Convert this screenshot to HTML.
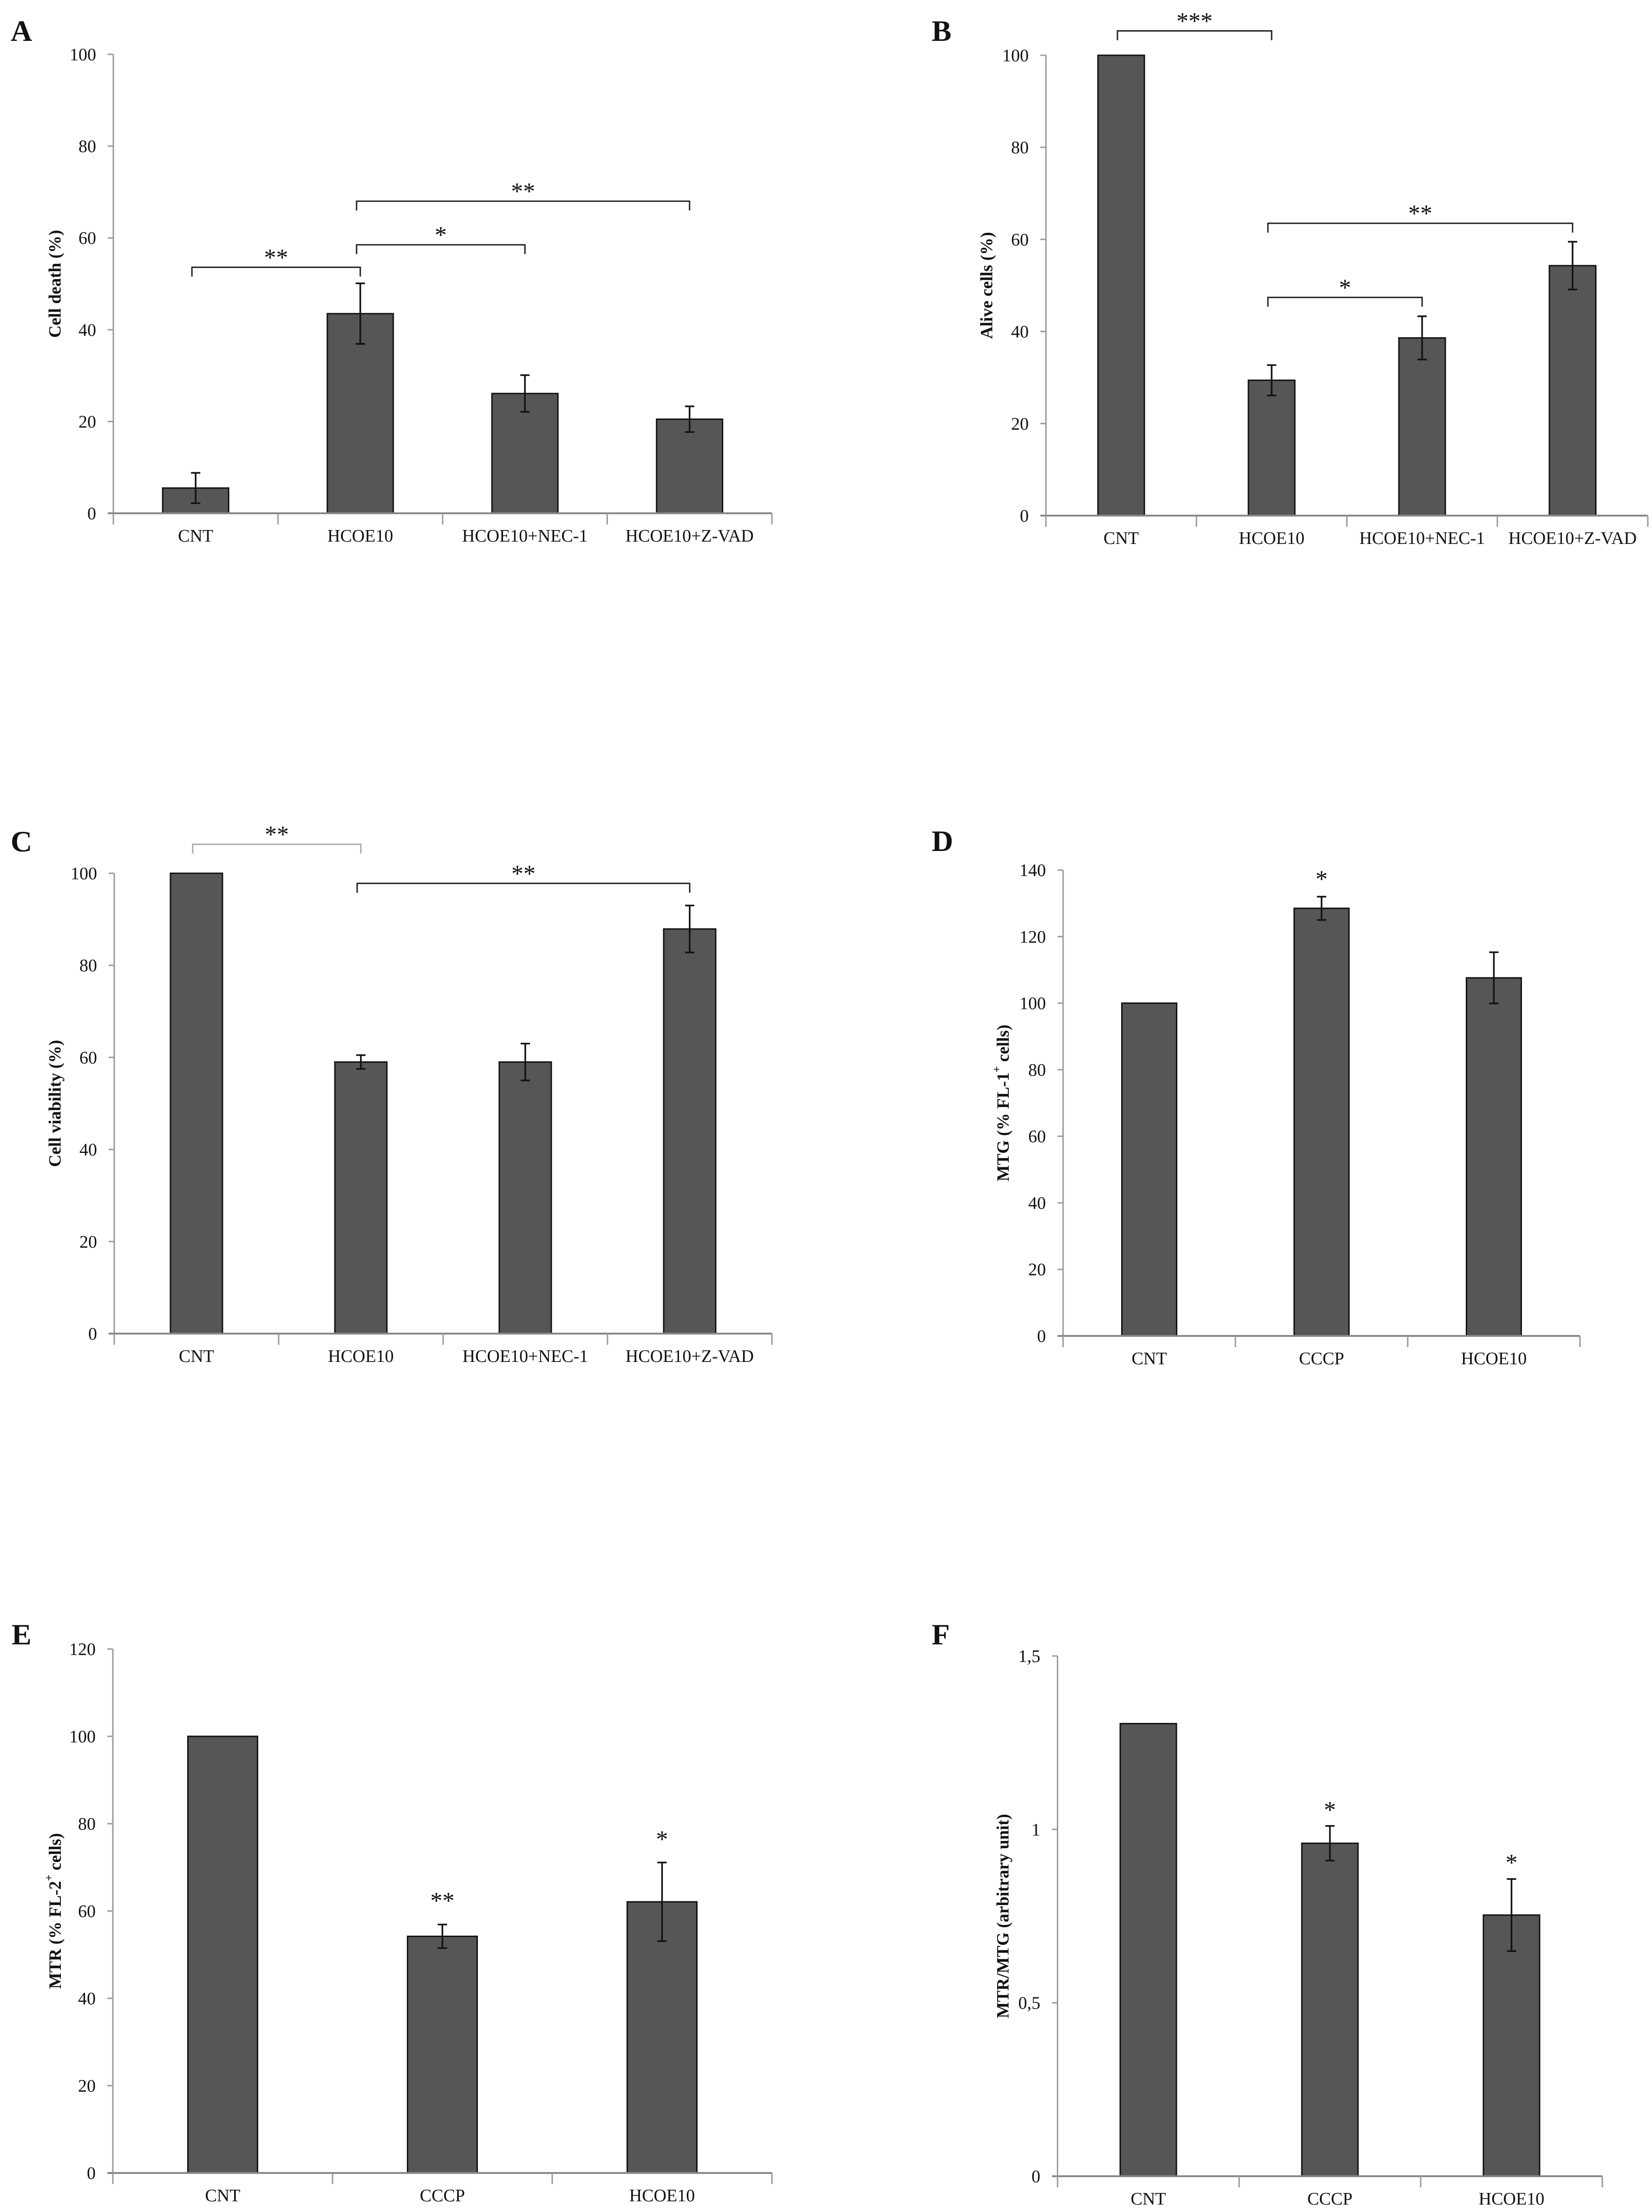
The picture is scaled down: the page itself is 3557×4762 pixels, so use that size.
<!DOCTYPE html>
<html>
<head>
<meta charset="utf-8">
<style>
  html, body { margin: 0; padding: 0; background: #fff; }
  svg { display: block; }
  text { font-family: "Liberation Serif", serif; fill: #111; }
  .tick { font-size: 38px; }
  .cat { font-size: 38px; }
  .ylab { font-size: 37px; font-weight: bold; }
  .letter { font-size: 64px; font-weight: bold; }
  .star { font-size: 52px; }
</style>
</head>
<body>
<svg id="fig" xmlns="http://www.w3.org/2000/svg" width="3557" height="4762" viewBox="0 0 3557 4762"></svg>
<script>
// ---------- DATA ----------
const catsA = ["CNT", "HCOE10", "HCOE10+NEC-1", "HCOE10+Z-VAD"];
const valsA = [5.5, 43.5, 26.1, 20.5];
const errsA = [3.3, 6.6, 4.0, 2.8];
const ticksA = [0, 20, 40, 60, 80, 100];
const bracketsA = [[0, 1, 53.6, "**"], [1, 2, 58.5, "*"], [1, 3, 68, "**"]];

const catsB = ["CNT", "HCOE10", "HCOE10+NEC-1", "HCOE10+Z-VAD"];
const valsB = [100, 29.4, 38.6, 54.3];
const errsB = [0, 3.3, 4.7, 5.2];
const ticksB = [0, 20, 40, 60, 80, 100];
const bracketsB = [[0, 1, 105.3, "***"], [1, 3, 63.5, "**"], [1, 2, 47.4, "*"]];

const catsC = ["CNT", "HCOE10", "HCOE10+NEC-1", "HCOE10+Z-VAD"];
const valsC = [100, 59, 59, 87.9];
const errsC = [0, 1.5, 4.0, 5.1];
const ticksC = [0, 20, 40, 60, 80, 100];
const bracketsC = [[0, 1, 106.3, "**"], [1, 3, 97.8, "**"]];

const catsD = ["CNT", "CCCP", "HCOE10"];
const valsD = [100, 128.5, 107.6];
const errsD = [0, 3.5, 7.7];
const ticksD = [0, 20, 40, 60, 80, 100, 120, 140];
const starsD = [[1, 138.5, "*"]];

const catsE = ["CNT", "CCCP", "HCOE10"];
const valsE = [100, 54.2, 62.1];
const errsE = [0, 2.7, 9.0];
const ticksE = [0, 20, 40, 60, 80, 100, 120];
const starsE = [[1, 63.3, "**"], [2, 77.4, "*"]];

const catsF = ["CNT", "CCCP", "HCOE10"];
const valsF = [1.305, 0.96, 0.753];
const errsF = [0, 0.05, 0.104];
const ticksF = [0, 0.5, 1, 1.5];
const tickLabelsF = ["0", "0,5", "1", "1,5"];
const starsF = [[1, 1.068, "*"], [2, 0.916, "*"]];

// ---------- DRAWING ----------
const NS = "http://www.w3.org/2000/svg";
const svg = document.getElementById("fig");
function mk(tag, attrs, parent) {
  const e = document.createElementNS(NS, tag);
  for (const k in attrs) e.setAttribute(k, attrs[k]);
  (parent || svg).appendChild(e);
  return e;
}

function panel(cfg) {
  const g = mk("g", {});
  
  
  const n = cfg.cats.length;
  const step = (cfg.x1 - cfg.x0) / n;
  const xc = i => cfg.x0 + step * (i + 0.5);
  const ys = v => cfg.y0 - (v / cfg.max) * (cfg.y0 - cfg.yTop);

  // letter
  const L = mk("text", { x: cfg.lx, y: cfg.ly, class: "letter" }, g);
  L.textContent = cfg.id;
  
  

  // y axis
  const ya = mk("line", { x1: cfg.x0, y1: cfg.yTop, x2: cfg.x0, y2: cfg.y0, stroke: "#999", "stroke-width": 3 }, g);
  
  
  cfg.ticks.forEach((t, i) => {
    const y = ys(t);
    mk("line", { x1: cfg.x0 - 12, y1: y, x2: cfg.x0, y2: y, stroke: "#999", "stroke-width": 3 }, g);
    const tl = mk("text", { x: cfg.x0 - 37, y: y + 13, "text-anchor": "end", class: "tick" }, g);
    tl.textContent = cfg.tickLabels ? cfg.tickLabels[i] : String(t);
    
    
  });

  // y label
  const yl = mk("text", { x: 0, y: 0, "text-anchor": "middle", "dominant-baseline": "central", class: "ylab",
    transform: "translate(" + cfg.ylx + "," + ((cfg.yTop + cfg.y0) / 2) + ") rotate(-90)" }, g);
  
  
  if (cfg.sup) {
    const a = mk("tspan", {}, yl); a.textContent = cfg.ylab[0];
    const s = mk("tspan", { "baseline-shift": "super", "font-size": "24px" }, yl); s.textContent = cfg.sup;
    const b = mk("tspan", {}, yl); b.textContent = cfg.ylab[1];
  } else {
    yl.textContent = cfg.ylab;
  }

  // bars
  cfg.vals.forEach((v, i) => {
    const y = ys(v);
    const r = mk("rect", { x: xc(i) - cfg.bw / 2, y: y, width: cfg.bw, height: cfg.y0 - y, fill: "#565656", stroke: "#111", "stroke-width": 3 }, g);
    
    
    const e = cfg.errs[i];
    if (e > 0) {
      const eg = mk("g", { stroke: "#111", "stroke-width": 3.5 }, g);
      
      
      const yt = ys(v + e), yb = ys(v - e), x = xc(i);
      mk("line", { x1: x, y1: yt, x2: x, y2: yb }, eg);
      mk("line", { x1: x - 10, y1: yt, x2: x + 10, y2: yt }, eg);
      mk("line", { x1: x - 10, y1: yb, x2: x + 10, y2: yb }, eg);
    }
  });

  // x axis
  const xa = mk("line", { x1: cfg.x0 - 12, y1: cfg.y0, x2: cfg.x1, y2: cfg.y0, stroke: "#888", "stroke-width": 4 }, g);
  
  
  for (let i = 0; i <= n; i++) {
    const x = cfg.x0 + step * i;
    mk("line", { x1: x, y1: cfg.y0, x2: x, y2: cfg.y0 + 24, stroke: "#999", "stroke-width": 3 }, g);
  }
  cfg.cats.forEach((c, i) => {
    const t = mk("text", { x: xc(i), y: cfg.y0 + 61, "text-anchor": "middle", class: "cat" }, g);
    t.textContent = c;
    
    
  });

  // brackets
  (cfg.brackets || []).forEach((b, k) => {
    const y = ys(b[2]);
    const xa_ = xc(b[0]) - 8, xb_ = xc(b[1]);
    const col = (cfg.greyFirst && k === 0) ? "#aaa" : "#222";
    const p = mk("path", { d: "M" + xa_ + "," + (y + 20) + " V" + y + " H" + xb_ + " V" + (y + 20), fill: "none", stroke: col, "stroke-width": 3 }, g);
    
    
    const s = mk("text", { x: (xa_ + xb_) / 2, y: y - 4, "text-anchor": "middle", class: "star" }, g);
    s.textContent = b[3];
    
    
  });
  (cfg.stars || []).forEach(s => {
    const t = mk("text", { x: xc(s[0]), y: ys(s[1]) + 26, "text-anchor": "middle", class: "star" }, g);
    t.textContent = s[2];
    
    
  });
}

panel({ id: "A", cats: catsA, vals: valsA, errs: errsA, ticks: ticksA, brackets: bracketsA, max: 100,
  x0: 244, x1: 1662, yTop: 117, y0: 1105, bw: 142, lx: 23, ly: 88, ylx: 119, ylab: "Cell death (%)" });
panel({ id: "B", cats: catsB, vals: valsB, errs: errsB, ticks: ticksB, brackets: bracketsB, max: 100,
  x0: 2252, x1: 3548, yTop: 119, y0: 1110, bw: 100, lx: 2006, ly: 88, ylx: 2125, ylab: "Alive cells (%)" });
panel({ id: "C", cats: catsC, vals: valsC, errs: errsC, ticks: ticksC, brackets: bracketsC, max: 100, greyFirst: true,
  x0: 246, x1: 1662, yTop: 1880, y0: 2871, bw: 112, lx: 23, ly: 1833, ylx: 119, ylab: "Cell viability (%)" });
panel({ id: "D", cats: catsD, vals: valsD, errs: errsD, ticks: ticksD, stars: starsD, max: 140,
  x0: 2289, x1: 3402, yTop: 1873, y0: 2876, bw: 118, lx: 2006, ly: 1832, ylx: 2160, ylab: ["MTG (% FL-1", " cells)"], sup: "+" });
panel({ id: "E", cats: catsE, vals: valsE, errs: errsE, ticks: ticksE, stars: starsE, max: 120,
  x0: 243, x1: 1662, yTop: 3550, y0: 4678, bw: 150, lx: 25, ly: 3540, ylx: 119, ylab: ["MTR (% FL-2", " cells)"], sup: "+" });
panel({ id: "F", cats: catsF, vals: valsF, errs: errsF, ticks: ticksF, tickLabels: tickLabelsF, stars: starsF, max: 1.5,
  x0: 2277, x1: 3450, yTop: 3565, y0: 4685, bw: 121, lx: 2006, ly: 3540, ylx: 2160, ylab: "MTR/MTG (arbitrary unit)" });
</script>
</body>
</html>
